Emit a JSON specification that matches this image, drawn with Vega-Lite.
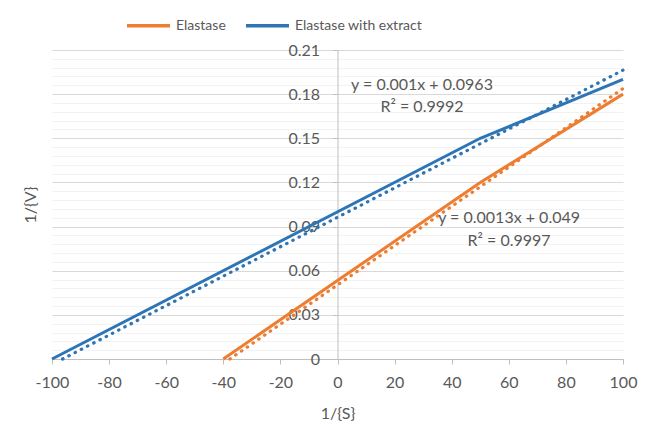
{
  "$schema": "https://vega.github.io/schema/vega-lite/v6.json",
  "width": 571,
  "height": 309,
  "autosize": {"type": "none"},
  "padding": {"left": 52, "top": 50, "right": 27, "bottom": 65},
  "background": "white",
  "config": {"view": {"stroke": null}, "font": "Lato"},
  "datasets": {
    "series": [
      {"series": "Elastase", "x": -40, "y": 0},
      {"series": "Elastase", "x": 50, "y": 0.12},
      {"series": "Elastase", "x": 100, "y": 0.18},
      {"series": "Elastase with extract", "x": -100, "y": 0},
      {"series": "Elastase with extract", "x": 50, "y": 0.15},
      {"series": "Elastase with extract", "x": 100, "y": 0.19}
    ],
    "trends": [
      {"series": "Elastase", "x": -37.7, "y": 0},
      {"series": "Elastase", "x": 100, "y": 0.1838},
      {"series": "Elastase with extract", "x": -96.3, "y": 0},
      {"series": "Elastase with extract", "x": 100, "y": 0.1963}
    ],
    "notes": [
      {"label": "y = 0.001x + 0.0963", "x": 29.6, "y": 0.1862},
      {"label": "R² = 0.9992", "x": 29.6, "y": 0.1713},
      {"label": "y = 0.0013x + 0.049", "x": 60.1, "y": 0.0958},
      {"label": "R² = 0.9997", "x": 60.1, "y": 0.0802}
    ]
  },
  "encoding": {
    "x": {
      "field": "x", "type": "quantitative",
      "scale": {"domain": [-100, 100], "nice": false, "zero": false},
      "axis": {
        "values": [-100, -80, -60, -40, -20, 0, 20, 40, 60, 80, 100],
        "labelExpr": "toString(datum.value)",
        "grid": false,
        "domainColor": "#bfbfbf",
        "tickColor": "#bfbfbf",
        "tickSize": 5,
        "labelFontSize": 16,
        "labelColor": "#595959",
        "labelPadding": 10,
        "labelFlush": false,
        "title": "1/{S}",
        "titleFontSize": 16,
        "titleFontWeight": "normal",
        "titleColor": "#595959",
        "titlePadding": 15
      }
    },
    "y": {
      "field": "y", "type": "quantitative",
      "scale": {"domain": [0, 0.21], "nice": false},
      "axis": {
        "values": [0, 0.006, 0.012, 0.018, 0.024, 0.03, 0.036, 0.042, 0.048, 0.054, 0.06, 0.066, 0.072, 0.078, 0.084, 0.09, 0.096, 0.102, 0.108, 0.114, 0.12, 0.126, 0.132, 0.138, 0.144, 0.15, 0.156, 0.162, 0.168, 0.174, 0.18, 0.186, 0.192, 0.198, 0.204, 0.21],
        "offset": -285.5,
        "grid": true,
        "gridColor": {"condition": {"test": "abs(datum.value*100/3 - round(datum.value*100/3)) < 0.001", "value": "#d9d9d9"}, "value": "#f2f2f2"},
        "tickOpacity": {"condition": {"test": "abs(datum.value*100/3 - round(datum.value*100/3)) < 0.001", "value": 1}, "value": 0},
        "domainColor": "#bfbfbf",
        "tickColor": "#bfbfbf",
        "tickSize": 5,
        "labelExpr": "abs(datum.value*100/3 - round(datum.value*100/3)) < 0.001 ? (datum.value == 0 ? '0' : format(datum.value, '.2f')) : ''",
        "labelFontSize": 16,
        "labelColor": "#595959",
        "labelPadding": 13,
        "labelFlush": false,
        "labelOverlap": false,
        "title": "1/{V}",
        "titleFontSize": 16,
        "titleFontWeight": "normal",
        "titleColor": "#595959",
        "titleX": -307.5,
        "titleY": 154.5,
        "titleAngle": -90,
        "titleAlign": "center",
        "titleBaseline": "middle"
      }
    }
  },
  "layer": [
    {
      "data": {"name": "series"},
      "mark": {"type": "line", "strokeWidth": 3},
      "encoding": {
        "color": {
          "field": "series", "type": "nominal",
          "scale": {"domain": ["Elastase", "Elastase with extract"], "range": ["#ED7D31", "#2E75B6"]},
          "legend": {
            "orient": "none",
            "legendX": 73,
            "legendY": -48,
            "direction": "horizontal",
            "title": null,
            "symbolType": "stroke",
            "symbolSize": 1849,
            "symbolStrokeWidth": 3.5,
            "labelFontSize": 14,
            "labelColor": "#595959",
            "labelOffset": 4,
            "columnPadding": 13
          }
        }
      }
    },
    {
      "data": {"name": "trends"},
      "mark": {"type": "line", "strokeWidth": 3.2, "strokeDash": [0.5, 6.5], "strokeCap": "round"},
      "encoding": {
        "color": {"field": "series", "type": "nominal"}
      }
    },
    {
      "data": {"name": "notes"},
      "mark": {"type": "text", "fontSize": 16, "color": "#595959", "font": "Lato", "align": "center", "baseline": "middle"},
      "encoding": {
        "text": {"field": "label"}
      }
    }
  ]
}
